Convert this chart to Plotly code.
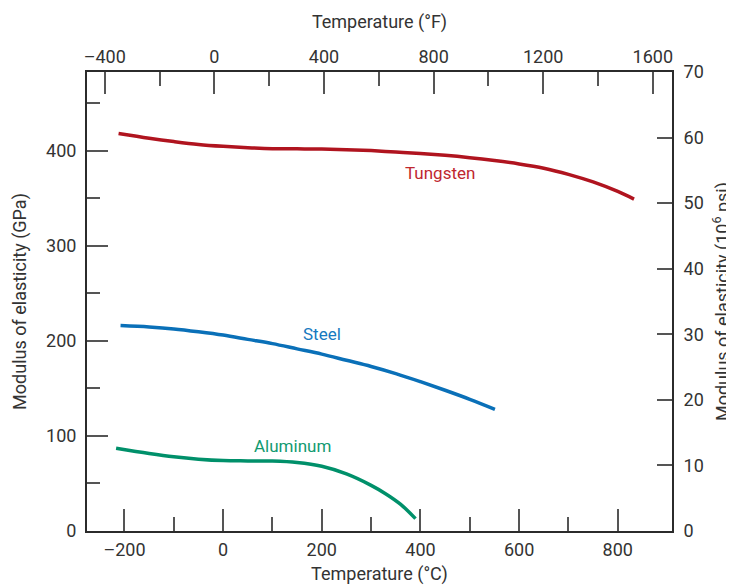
import plotly.graph_objects as go

# ---- data ----
tungsten_c = [-212, -150, -100, -50, 0, 50, 100, 150, 200, 250, 300, 350, 400, 450, 500, 550, 600, 650, 700, 750, 800, 833]
tungsten_gpa = [418, 413, 409.5, 406.5, 404.5, 403, 402, 401.8, 401.6, 401, 400, 398.5, 397, 395, 392.5, 389.5, 386, 381.5, 375, 367, 357, 349]

steel_c = [-208, -150, -100, -50, 0, 50, 100, 150, 200, 250, 300, 350, 400, 450, 500, 551]
steel_gpa = [216, 214.5, 212.5, 209.5, 206, 201.5, 197, 191.5, 186, 179.5, 173, 165.5, 157, 148, 138.5, 128]

aluminum_c = [-217, -150, -100, -50, 0, 50, 100, 150, 200, 250, 300, 330, 360, 390]
aluminum_gpa = [87, 81.5, 78, 75.5, 74, 73.7, 73.5, 72, 68, 60, 48, 39, 28, 13]

labels = ["Tungsten", "Steel", "Aluminum"]
label_x = [439, 201, 140]
label_y = [376.6, 207, 89]

c_ticks = [-200, 0, 200, 400, 600, 800]
c_minor = [-100, 100, 300, 500, 700]
f_ticks = [-400, 0, 400, 800, 1200, 1600]
f_minor = [-200, 200, 600, 1000, 1400]
gpa_ticks = [0, 100, 200, 300, 400]
gpa_minor = [50, 150, 250, 350, 450]
psi_ticks = [0, 10, 20, 30, 40, 50, 60, 70]

C_RANGE = [-276, 910]
PSI_MAX = 70
GPA_PER_MPSI = 6.894757

def c_to_f(c):
    return c * 9 / 5 + 32

def lab(v):
    return str(v) if v >= 0 else "\u2013" + str(-v)

line_colors = ["#B0141F", "#0A70B8", "#00906A"]
text_colors = ["#C0272F", "#1679C0", "#119A70"]

FONT = "Roboto"
TXT = "#333333"
AX = "#2b2b2b"
TK = "#555555"

fig = go.Figure()
for xs, ys, col in zip([tungsten_c, steel_c, aluminum_c],
                       [tungsten_gpa, steel_gpa, aluminum_gpa], line_colors):
    fig.add_trace(go.Scatter(x=xs, y=ys, mode="lines", line=dict(color=col, width=3.5, shape="spline", smoothing=1.0),
                             showlegend=False, hoverinfo="skip"))

# helper trace so the secondary axes render
fig.add_trace(go.Scatter(x=[c_to_f(C_RANGE[0])], y=[0], mode="markers", marker=dict(opacity=0),
                         xaxis="x2", yaxis="y2", showlegend=False, hoverinfo="skip"))

for t, x, y, c in zip(labels, label_x, label_y, text_colors):
    fig.add_annotation(x=x, y=y, text=t, showarrow=False, font=dict(family=FONT, size=17, color=c),
                       xref="x", yref="y")

common = dict(showgrid=False, zeroline=False, showline=True, linecolor=AX, linewidth=2,
              ticks="inside", tickcolor=TK, tickwidth=1.5, automargin=False,
              tickfont=dict(family=FONT, size=18, color=TXT), tickmode="array")
minor_common = dict(tickmode="array", ticks="inside", tickcolor=TK, tickwidth=1.5, showgrid=False)
title_font = dict(family=FONT, size=18, color=TXT)

# the page body adds an 8px offset, so the figure is 8px smaller than the window
fig.update_layout(
    width=726, height=578,
    margin=dict(l=79, r=62, t=64, b=55),
    paper_bgcolor="white", plot_bgcolor="white",
    font=dict(family=FONT, color=TXT),
    xaxis=dict(range=C_RANGE, tickvals=c_ticks, ticktext=[lab(v) for v in c_ticks],
               ticklen=22, side="bottom", ticklabelstandoff=1,
               minor=dict(tickvals=c_minor, ticklen=14, **minor_common),
               title=dict(text="Temperature (\u00b0C)", font=title_font, standoff=9),
               **common),
    xaxis2=dict(range=[c_to_f(C_RANGE[0]), c_to_f(C_RANGE[1])], overlaying="x", side="top",
                tickvals=f_ticks, ticktext=[lab(v) for v in f_ticks],
                ticklen=22, ticklabelstandoff=0,
                minor=dict(tickvals=f_minor, ticklen=14, **minor_common),
                title=dict(text="Temperature (\u00b0F)", font=title_font, standoff=12),
                **common),
    yaxis=dict(range=[0, PSI_MAX * GPA_PER_MPSI], tickvals=gpa_ticks, ticklen=21, ticklabelstandoff=5,
               minor=dict(tickvals=gpa_minor, ticklen=13, **minor_common),
               title=dict(text="Modulus of elasticity (GPa)", font=title_font, standoff=15),
               **common),
    yaxis2=dict(range=[0, PSI_MAX], overlaying="y", side="right", tickvals=psi_ticks, ticklen=15, ticklabelstandoff=6,
                title=dict(text="Modulus of elasticity (10<sup>6</sup> psi)", font=title_font, standoff=20),
                **common),
)

fig.write_html("out.html")
